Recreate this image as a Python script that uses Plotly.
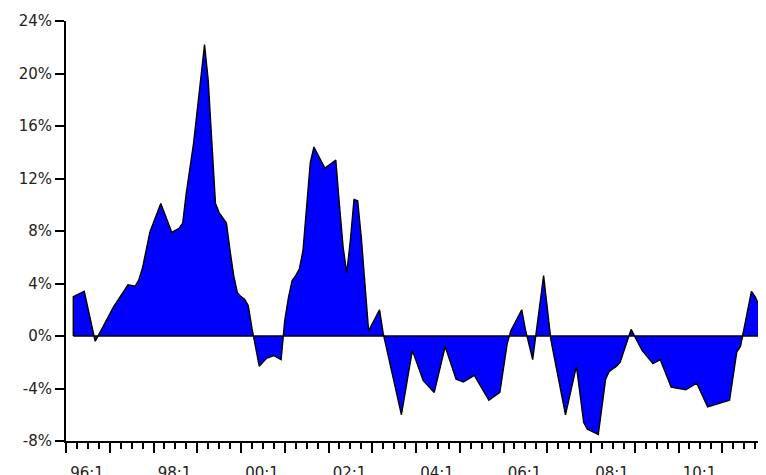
import plotly.graph_objects as go

obs_dates = [
    "1996-03", "1996-06", "1996-09", "1996-10", "1997-02", "1997-06", "1997-08", "1997-09",
    "1997-10", "1997-12", "1998-03", "1998-06", "1998-08", "1998-09", "1998-10", "1998-12",
    "1999-01", "1999-02", "1999-03", "1999-04", "1999-05", "1999-06", "1999-07", "1999-09",
    "1999-10", "1999-11", "1999-12", "2000-01", "2000-02", "2000-03", "2000-04", "2000-06",
    "2000-08", "2000-10", "2000-12", "2001-01", "2001-02", "2001-03", "2001-04", "2001-05",
    "2001-06", "2001-07", "2001-08", "2001-09", "2001-12", "2002-02", "2002-03", "2002-04",
    "2002-05", "2002-06", "2002-07", "2002-08", "2002-09", "2002-10", "2002-11", "2002-12",
    "2003-03", "2003-04", "2003-09", "2003-12", "2004-03", "2004-06", "2004-09", "2004-12",
    "2005-02", "2005-05", "2005-09", "2005-12", "2006-02", "2006-03", "2006-06", "2006-07",
    "2006-09", "2006-12", "2007-02", "2007-06", "2007-09", "2007-11", "2007-12", "2008-03",
    "2008-05", "2008-06", "2008-08", "2008-09", "2008-12", "2009-03", "2009-06", "2009-08",
    "2009-11", "2010-03", "2010-06", "2010-09", "2011-03", "2011-05", "2011-06", "2011-09",
    "2011-10", "2011-11",
]
growth_pct = [
    3.0, 3.4, -0.4, 0.1, 2.2, 3.9, 3.8, 4.3,
    5.2, 7.9, 10.1, 7.9, 8.2, 8.6, 10.9, 14.7,
    17.2, 20.0, 22.2, 19.5, 14.5, 10.1, 9.4, 8.6,
    6.5, 4.6, 3.3, 3.0, 2.8, 2.3, 0.6, -2.3,
    -1.7, -1.5, -1.8, 1.2, 2.9, 4.2, 4.6, 5.1,
    6.5, 10.2, 13.2, 14.4, 12.8, 13.2, 13.4, 10.0,
    6.8, 4.8, 7.3, 10.4, 10.3, 7.5, 4.2, 0.4,
    2.0, 0.2, -6.0, -1.1, -3.4, -4.3, -0.8, -3.3,
    -3.5, -3.0, -4.9, -4.3, -0.6, 0.4, 2.0, 0.5,
    -1.8, 4.6, -0.3, -6.0, -2.3, -6.6, -7.1, -7.5,
    -3.3, -2.7, -2.3, -2.0, 0.5, -1.1, -2.1, -1.8,
    -3.9, -4.1, -3.6, -5.4, -4.9, -1.2, -0.8, 3.4,
    3.0, 2.4,
]

label_years = [1996, 1998, 2000, 2002, 2004, 2006, 2008, 2010]
tick_labels = ["96:1", "98:1", "00:1", "02:1", "04:1", "06:1", "08:1", "10:1"]
y_ticks = [-8, -4, 0, 4, 8, 12, 16, 20, 24]


def to_year(s):
    y, m = s.split("-")
    return int(y) + (int(m) - 1) / 12.0


xs = [to_year(d) for d in obs_dates]
# close polygon to the zero baseline
poly_x = [xs[0]] + xs + [xs[-1]]
poly_y = [0] + growth_pct + [0]

FONT = dict(family="DejaVu Sans, Verdana, sans-serif", size=15, color="#222222")

fig = go.Figure()
fig.add_trace(go.Scatter(
    x=poly_x, y=poly_y, mode="lines", fill="toself",
    fillcolor="#0000FF", line=dict(color="black", width=1.4),
    hoverinfo="skip", showlegend=False,
))
fig.add_trace(go.Scatter(
    x=[xs[0], xs[-1]], y=[0, 0], mode="lines",
    line=dict(color="black", width=1.6), xaxis="x2",
    hoverinfo="skip", showlegend=False,
))

fig.update_layout(
    width=758, height=467,
    margin=dict(l=58, r=0, t=13, b=34),
    paper_bgcolor="white", plot_bgcolor="white",
    font=FONT,
    xaxis=dict(
        range=[1996, 2012], showgrid=False, zeroline=False, automargin=False,
        showline=True, linecolor="black", linewidth=2,
        tickmode="array",
        tickvals=[y + 0.48 for y in label_years], ticktext=tick_labels,
        ticks="outside", ticklen=17, tickcolor="rgba(0,0,0,0)",
        tickfont=FONT,
    ),
    xaxis2=dict(
        overlaying="x", matches="x", anchor="y", side="bottom", automargin=False,
        showgrid=False, zeroline=False, showline=False,
        showticklabels=False,
        tickmode="linear", tick0=1996, dtick=1,
        ticks="outside", ticklen=11, tickwidth=1.5, tickcolor="black",
        minor=dict(tickmode="linear", tick0=1996, dtick=0.25,
                   ticks="outside", ticklen=7, tickwidth=1.5, tickcolor="black"),
    ),
    yaxis=dict(
        range=[-8, 24], showgrid=False, zeroline=False, automargin=False,
        showline=True, linecolor="black", linewidth=2,
        tickmode="array", tickvals=y_ticks,
        ticktext=[f"{v}%" for v in y_ticks],
        ticks="outside", ticklen=9, tickwidth=1.5, tickcolor="black",
        tickfont=FONT,
    ),
)

fig.write_html("out.html")
